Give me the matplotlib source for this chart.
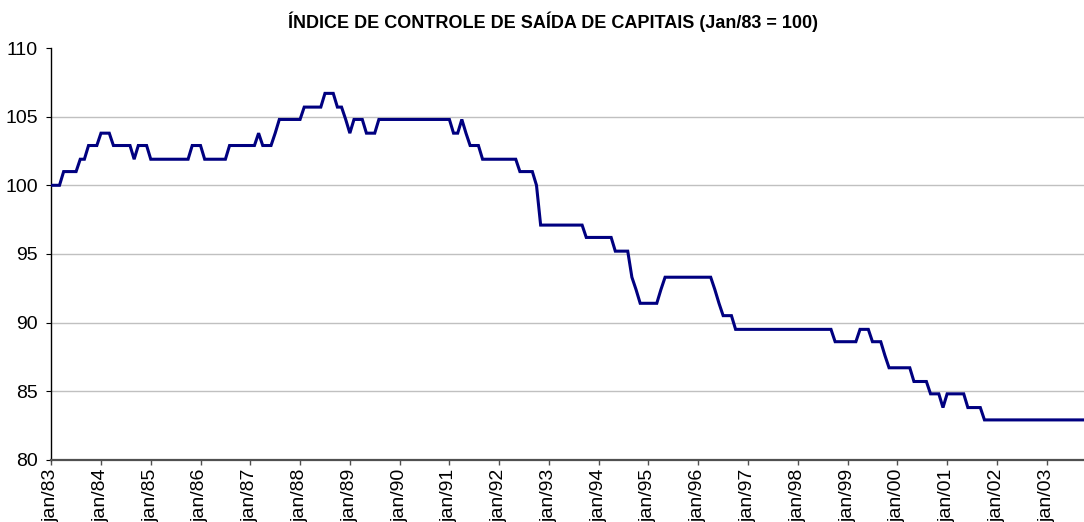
import matplotlib
matplotlib.use("Agg")
import matplotlib.pyplot as plt

plt.rcParams['font.family'] = ['Liberation Sans', 'DejaVu Sans']

title = "ÍNDICE DE CONTROLE DE SAÍDA DE CAPITAIS (Jan/83 = 100)"

# monthly index values, Jan/83 .. Oct/03 (one row per year)
y1983 = [100.0, 100.0, 100.0, 101.0, 101.0, 101.0, 101.0, 101.9, 101.9, 102.9, 102.9, 102.9]
y1984 = [103.8, 103.8, 103.8, 102.9, 102.9, 102.9, 102.9, 102.9, 101.9, 102.9, 102.9, 102.9]
y1985 = [101.9, 101.9, 101.9, 101.9, 101.9, 101.9, 101.9, 101.9, 101.9, 101.9, 102.9, 102.9]
y1986 = [102.9, 101.9, 101.9, 101.9, 101.9, 101.9, 101.9, 102.9, 102.9, 102.9, 102.9, 102.9]
y1987 = [102.9, 102.9, 103.8, 102.9, 102.9, 102.9, 103.8, 104.8, 104.8, 104.8, 104.8, 104.8]
y1988 = [104.8, 105.7, 105.7, 105.7, 105.7, 105.7, 106.7, 106.7, 106.7, 105.7, 105.7, 104.8]
y1989 = [103.8, 104.8, 104.8, 104.8, 103.8, 103.8, 103.8, 104.8, 104.8, 104.8, 104.8, 104.8]
y1990 = [104.8, 104.8, 104.8, 104.8, 104.8, 104.8, 104.8, 104.8, 104.8, 104.8, 104.8, 104.8]
y1991 = [104.8, 103.8, 103.8, 104.8, 103.8, 102.9, 102.9, 102.9, 101.9, 101.9, 101.9, 101.9]
y1992 = [101.9, 101.9, 101.9, 101.9, 101.9, 101.0, 101.0, 101.0, 101.0, 100.0, 97.1, 97.1]
y1993 = [97.1, 97.1, 97.1, 97.1, 97.1, 97.1, 97.1, 97.1, 97.1, 96.2, 96.2, 96.2]
y1994 = [96.2, 96.2, 96.2, 96.2, 95.2, 95.2, 95.2, 95.2, 93.3, 92.4, 91.4, 91.4]
y1995 = [91.4, 91.4, 91.4, 92.4, 93.3, 93.3, 93.3, 93.3, 93.3, 93.3, 93.3, 93.3]
y1996 = [93.3, 93.3, 93.3, 93.3, 92.4, 91.4, 90.5, 90.5, 90.5, 89.5, 89.5, 89.5]
y1997 = [89.5, 89.5, 89.5, 89.5, 89.5, 89.5, 89.5, 89.5, 89.5, 89.5, 89.5, 89.5]
y1998 = [89.5, 89.5, 89.5, 89.5, 89.5, 89.5, 89.5, 89.5, 89.5, 88.6, 88.6, 88.6]
y1999 = [88.6, 88.6, 88.6, 89.5, 89.5, 89.5, 88.6, 88.6, 88.6, 87.6, 86.7, 86.7]
y2000 = [86.7, 86.7, 86.7, 86.7, 85.7, 85.7, 85.7, 85.7, 84.8, 84.8, 84.8, 83.8]
y2001 = [84.8, 84.8, 84.8, 84.8, 84.8, 83.8, 83.8, 83.8, 83.8, 82.9, 82.9, 82.9]
y2002 = [82.9, 82.9, 82.9, 82.9, 82.9, 82.9, 82.9, 82.9, 82.9, 82.9, 82.9, 82.9]
y2003 = [82.9, 82.9, 82.9, 82.9, 82.9, 82.9, 82.9, 82.9, 82.9, 82.9]

tick_labels = ["jan/83", "jan/84", "jan/85", "jan/86", "jan/87", "jan/88", "jan/89",
               "jan/90", "jan/91", "jan/92", "jan/93", "jan/94", "jan/95", "jan/96",
               "jan/97", "jan/98", "jan/99", "jan/00", "jan/01", "jan/02", "jan/03"]
y_ticks = [80, 85, 90, 95, 100, 105, 110]

values = (y1983 + y1984 + y1985 + y1986 + y1987 + y1988 + y1989 + y1990 + y1991 +
          y1992 + y1993 + y1994 + y1995 + y1996 + y1997 + y1998 + y1999 + y2000 +
          y2001 + y2002 + y2003)
months = list(range(len(values)))

W, H = 1084, 522
fig = plt.figure(figsize=(W / 100, H / 100), dpi=100)
ax = fig.add_axes([51.2 / W, 1 - 459.7 / H, (1084 - 51.2) / W, (459.7 - 48.1) / H])

for g in [85, 90, 95, 100, 105]:
    ax.axhline(g, color='#c0c0c0', lw=1.0, zorder=1)

ax.plot(months, values, color='#000080', lw=2.2, zorder=3, solid_joinstyle='miter')

ax.set_xlim(0, len(values) - 1)
ax.set_ylim(80, 110)
ax.set_yticks(y_ticks)
ax.set_yticklabels([str(v) for v in y_ticks])
ax.set_xticks(list(range(0, 12 * len(tick_labels), 12)))
ax.set_xticklabels(tick_labels, rotation=90, va='top', ha='center')

for s in ['top', 'right']:
    ax.spines[s].set_visible(False)
ax.spines['left'].set_color('black')
ax.spines['left'].set_linewidth(1.0)
ax.spines['bottom'].set_color('#505050')
ax.spines['bottom'].set_linewidth(1.6)

ax.tick_params(axis='y', direction='out', length=3.5, width=0.8, color='black',
               pad=6, labelsize=14, labelcolor='black')
ax.tick_params(axis='x', direction='out', length=3.5, width=1.0, color='#505050',
               pad=3, labelsize=14, labelcolor='black')

fig.text(553 / W, 1 - 22 / H, title, ha='center', va='center',
         fontsize=13, fontweight='bold', color='black')

fig.savefig("out.png", dpi=100)
